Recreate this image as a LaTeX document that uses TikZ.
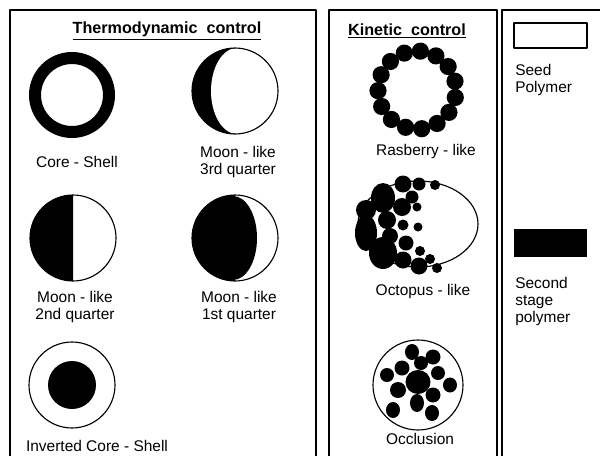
\documentclass[tikz,border=0pt]{standalone}
\usepackage{fontspec}
\setmainfont{Liberation Sans}
\usetikzlibrary{positioning}

\begin{document}
\begin{tikzpicture}[x=0.025cm, y=-0.025cm, line join=round,
    panel/.style={line width=1.4pt},
    outline/.style={line width=0.8pt},
    lbl/.style={font=\fontsize{11}{12}\selectfont, align=center, inner sep=0pt},
    ttl/.style={font=\fontsize{11.5}{13}\selectfont\bfseries, inner sep=0pt},
    keylbl/.style={lbl, align=left, anchor=north west}
  ]
  \useasboundingbox (0,0) rectangle (600,455);

  % the three panels (open at the bottom)
  \draw[panel] (10,460) -- (10,10) -- (316,10) -- (316,460);
  \draw[panel] (329,460) -- (329,10) -- (497,10) -- (497,460);
  \draw[panel] (502,460) -- (502,10) -- (605,10);

  % particle centres
  \coordinate (cs)  at (72,95);
  \coordinate (m3)  at (235,91);
  \coordinate (m2)  at (73,238);
  \coordinate (m1)  at (235,238);
  \coordinate (inv) at (72,385);
  \coordinate (rb)  at (417,90);
  \coordinate (oct) at (418,224);
  \coordinate (occ) at (418,385);

  \node[ttl] (thermo)  at (167,31) {\underline{Thermodynamic\ \ control}};
  \node[ttl] (kinetic) at (407,31) {\underline{Kinetic\ \ control}};

  % core - shell
  \fill[even odd rule] (cs) circle[radius=43] (cs) circle[radius=31];
  \node[lbl] (cslbl) at (77,162) {Core - Shell};

  % moon-like, 3rd quarter
  \fill (m3) ++(0,-43) arc[start angle=270, end angle=90, radius=43] -- cycle;
  \fill[white] (237,91) ellipse[x radius=26, y radius=43];
  \draw[outline] (m3) circle[radius=43];
  \node[lbl] (m3lbl) at (238,162) {Moon - like\\3rd quarter};

  % moon-like, 2nd quarter
  \fill (m2) ++(0,-43) arc[start angle=270, end angle=90, radius=43] -- cycle;
  \draw[outline] (m2) circle[radius=43];
  \node[lbl] (m2lbl) at (75,307) {Moon - like\\2nd quarter};

  % moon-like, 1st quarter
  \fill (m1) ++(0,-43) arc[start angle=270, end angle=90, radius=43] -- cycle;
  \fill (233,238) ellipse[x radius=24, y radius=42];
  \draw[outline] (m1) circle[radius=43];
  \node[lbl] (m1lbl) at (239,307) {Moon - like\\1st quarter};

  % inverted core - shell
  \draw[outline] (inv) circle[radius=43];
  \fill (inv) circle[radius=24];
  \node[lbl] (invlbl) at (97,446) {Inverted Core - Shell};

  % rasberry: ring of small domains
  \draw[outline] (rb) circle[radius=40];
  \foreach \a in {0,...,14}
    \fill (rb) ++(\a*24+11:39) circle[radius=8.6];
  \node[lbl] (rblbl) at (426,151) {Rasberry - like};

  % octopus
  \draw[outline] (oct) ellipse[x radius=60, y radius=43];
  \foreach \x/\y/\rx/\ry in {403/184/8.5/8.5, 419/184/6.5/6.5, 435/185/5/5,
      383/198/12/15, 412/197/6.5/6.5, 366/210/10/10, 402/207/9/9, 417/207/4.5/4.5,
      387/220/9/9, 403/225/5.5/5.5, 418/227/4.5/4.5, 366/233/11/18, 390/236/8/8,
      406/243/7.5/7.5, 420/251/5/5, 383/253/14/16, 403/260/8.5/8.5, 419/266/8.5/8.5,
      430/259/5/5, 437/268/5/5}
    \fill (\x,\y) ellipse[x radius=\rx, y radius=\ry];
  \node[lbl] (octlbl) at (423,291) {Octopus - like};

  % occlusion
  \draw[outline] (occ) circle[radius=45];
  \foreach \x/\y/\rx/\ry in {412/352/7/8, 433/357/7.5/7.5, 421/363/7/7,
      402/368/7.5/7.5, 387/375/7/7, 438/373/7/7, 418/382/12.5/12, 450/385/7/7.5,
      398/390/8/8, 433/395/7.5/7.5, 417/403/7/9, 393/410/7/8, 432/413/7/8}
    \fill (\x,\y) ellipse[x radius=\rx, y radius=\ry];
  \node[lbl] (occlbl) at (420,439) {Occlusion};

  % key
  \draw[outline] (514,23) rectangle (587,48);
  \node[keylbl] (seed) at (515,64) {Seed\\Polymer};
  \fill (514,229) rectangle (587,257);
  \node[keylbl] (second) at (515,277) {Second\\stage\\polymer};
\end{tikzpicture}
\end{document}
